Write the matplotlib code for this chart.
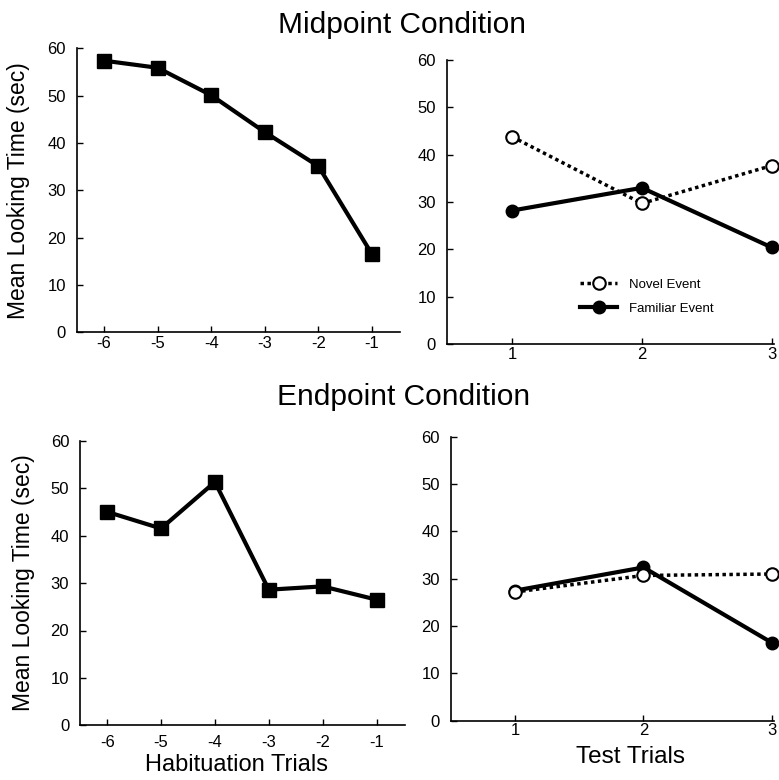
import matplotlib.pyplot as plt

plt.rcParams['font.family'] = ['Liberation Sans', 'DejaVu Sans']
plt.rcParams['axes.unicode_minus'] = False

hab_trials = [-6, -5, -4, -3, -2, -1]
test_trials = [1, 2, 3]

# Midpoint condition
mid_hab = [57.4, 55.9, 50.1, 42.3, 35.1, 16.5]
mid_novel = [43.8, 29.7, 37.7]
mid_familiar = [28.2, 33.0, 20.4]

# Endpoint condition
end_hab = [45.0, 41.5, 51.3, 28.6, 29.3, 26.5]
end_novel = [27.2, 30.7, 31.0]
end_familiar = [27.5, 32.4, 16.5]

fig = plt.figure(figsize=(7.79, 7.80), dpi=100)

ax_tl = fig.add_axes([0.099, 0.574, 0.415, 0.364])
ax_tr = fig.add_axes([0.574, 0.559, 0.420, 0.364])
ax_bl = fig.add_axes([0.103, 0.070, 0.417, 0.365])
ax_br = fig.add_axes([0.579, 0.076, 0.415, 0.364])


def style(ax, xticks, xlim, xpad):
    ax.set_xlim(*xlim)
    ax.set_ylim(0, 60)
    ax.set_xticks(xticks)
    ax.set_yticks([0, 10, 20, 30, 40, 50, 60])
    for s in ['top', 'right']:
        ax.spines[s].set_visible(False)
    for s in ['left', 'bottom']:
        ax.spines[s].set_linewidth(1.2)
    ax.tick_params(direction='in', length=4, width=1, labelsize=12)
    ax.tick_params(axis='y', pad=8)
    ax.tick_params(axis='x', pad=xpad)


# habituation panels
for ax, vals, xpad in [(ax_tl, mid_hab, 3), (ax_bl, end_hab, 7)]:
    ax.plot(hab_trials, vals, color='black', lw=3, marker='s', ms=10,
            clip_on=False)
    style(ax, hab_trials, (-6.5, -0.47), xpad)
    ax.set_ylabel('Mean Looking Time (sec)', fontsize=16.5)
ax_tl.yaxis.set_label_coords(-0.145, 0.5)
ax_bl.yaxis.set_label_coords(-0.138, 0.5)

# test panels
for ax, nov, fam in [(ax_tr, mid_novel, mid_familiar), (ax_br, end_novel, end_familiar)]:
    ax.plot(test_trials, fam, color='black', lw=3, marker='o', ms=9,
            clip_on=False, label='Familiar Event', zorder=3)
    ax.plot(test_trials, nov, color='black', lw=2.5, ls=(0, (1, 1)), marker='o',
            ms=9, mfc='white', mec='black', mew=1.5, clip_on=False,
            label='Novel Event', zorder=4)
    style(ax, test_trials, (0.5, 3.02), 2)

handles, labels = ax_tr.get_legend_handles_labels()
ax_tr.legend(handles[::-1], labels[::-1], loc='lower left',
             bbox_to_anchor=(0.37, 0.06), frameon=False, fontsize=9.5,
             handlelength=2.8, labelspacing=0.9, handletextpad=0.9)

ax_bl.set_xlabel('Habituation Trials', fontsize=17)
ax_br.set_xlabel('Test Trials', fontsize=17.5)
ax_bl.xaxis.set_label_coords(0.48, -0.1)
ax_br.xaxis.set_label_coords(0.555, -0.09)

fig.text(0.516, 0.958, 'Midpoint Condition', ha='center', va='baseline', fontsize=21.5)
fig.text(0.518, 0.481, 'Endpoint Condition', ha='center', va='baseline', fontsize=21.5)

fig.savefig('out.png', dpi=100)
